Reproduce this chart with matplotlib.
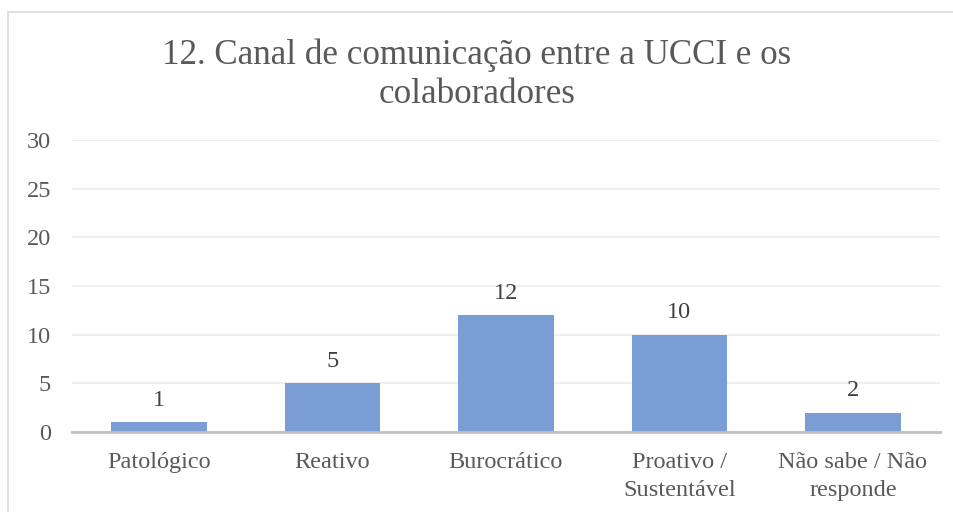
import matplotlib
matplotlib.use("Agg")
import matplotlib.pyplot as plt
from matplotlib.patches import Rectangle

# data
categories = ["Patológico", "Reativo", "Burocrático", "Proativo /\nSustentável", "Não sabe / Não\nresponde"]
values = [1, 5, 12, 10, 2]
yticks = [0, 5, 10, 15, 20, 25, 30]
title = "12. Canal de comunicação entre a UCCI e os\ncolaboradores"

txt = "#595959"
plt.rcParams["font.family"] = ["Liberation Serif", "DejaVu Serif"]

fig = plt.figure(figsize=(9.54, 5.12), dpi=100)
ax = fig.add_axes([0.0755, 0.156, 0.9095, 0.5706])

# outer chart border
fig.patches.append(Rectangle((8 / 954, -0.1), 2, 1.1 - 12 / 512, transform=fig.transFigure,
                             fill=False, edgecolor="#d9d9d9", linewidth=1.2))

x = range(len(values))
bars = ax.bar(x, values, width=0.55, color="#7b9dd6", zorder=3)
for b, v in zip(bars, values):
    ax.text(b.get_x() + b.get_width() / 2, v + 1.2, str(v), ha="center", va="bottom",
            fontsize=17.5, color="#404040")

ax.set_xlim(-0.5, len(values) - 0.5)
ax.set_ylim(0, 30)
ax.set_yticks(yticks)
ax.set_xticks(list(x))
ax.set_xticklabels(categories, fontsize=17.5, color=txt, linespacing=1.45)
ax.tick_params(axis="y", labelsize=17.5, labelcolor=txt, length=0, pad=15)
ax.tick_params(axis="x", length=0, pad=14)
ax.grid(axis="y", color="#ececec", linewidth=1.2, zorder=0)
for s in ["top", "right", "left"]:
    ax.spines[s].set_visible(False)
ax.spines["bottom"].set_color("#bfbfbf")
ax.spines["bottom"].set_linewidth(2)
ax.spines["bottom"].set_zorder(4)

fig.text(0.5, 1 - 75 / 512, title, ha="center", va="center", fontsize=25.2,
         color=txt, linespacing=1.25)

fig.savefig("out.png", dpi=100)
